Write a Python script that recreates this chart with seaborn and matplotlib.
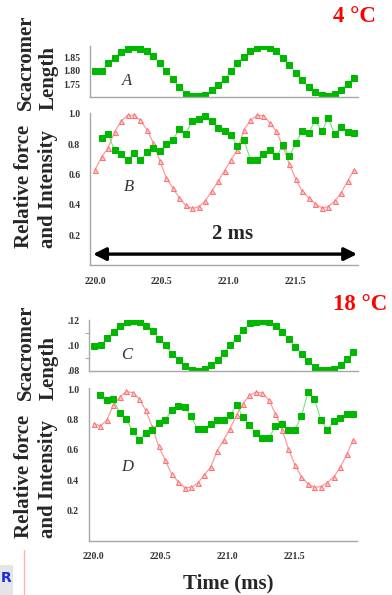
import numpy as np
import pandas as pd
import matplotlib
matplotlib.use('Agg')
import matplotlib.pyplot as plt
import seaborn as sns

#time axis (ms), same sampling for all panels
time_ms = [220.000, 220.049, 220.097, 220.146, 220.194, 220.243, 220.291, 220.340,
           220.388, 220.437, 220.485, 220.534, 220.582, 220.631, 220.679, 220.728,
           220.776, 220.825, 220.873, 220.922, 220.970, 221.019, 221.067, 221.116,
           221.164, 221.213, 221.261, 221.310, 221.358, 221.407, 221.455, 221.504,
           221.552, 221.601, 221.649, 221.698, 221.746, 221.795, 221.843, 221.892,
           221.940]

#4 C - sarcomere length (panel A)
sl_4c = [1.800, 1.800, 1.829, 1.851, 1.873, 1.885, 1.893, 1.885, 1.875, 1.856,
         1.829, 1.800, 1.770, 1.739, 1.714, 1.706, 1.703, 1.710, 1.726, 1.745,
         1.770, 1.800, 1.830, 1.854, 1.876, 1.888, 1.894, 1.888, 1.875, 1.850,
         1.823, 1.794, 1.766, 1.739, 1.719, 1.708, 1.704, 1.712, 1.729, 1.750,
         1.775]
#4 C - relative force (panel B, red)
force_4c = [0.632, 0.715, 0.775, 0.880, 0.950, 0.990, 0.990, 0.956, 0.895, 0.807,
            0.690, 0.577, 0.510, 0.446, 0.396, 0.376, 0.387, 0.424, 0.490, 0.555,
            0.625, 0.698, 0.763, 0.895, 0.956, 0.990, 0.987, 0.940, 0.884, 0.785,
            0.670, 0.570, 0.490, 0.446, 0.408, 0.380, 0.387, 0.424, 0.479, 0.555,
            0.632]
#4 C - intensity (panel B, green), starts at 2nd sample
inten_4c = [0.840, 0.866, 0.760, 0.735, 0.693, 0.742, 0.693, 0.746, 0.774, 0.752,
            0.800, 0.825, 0.900, 0.868, 0.954, 0.967, 0.987, 0.950, 0.906, 0.884,
            0.860, 0.785, 0.825, 0.698, 0.693, 0.737, 0.760, 0.720, 0.792, 0.720,
            0.807, 0.888, 0.873, 0.956, 0.884, 0.970, 0.868, 0.912, 0.880, 0.873]

#18 C - sarcomere length (panel C)
sl_18c = [0.0998, 0.1000, 0.1060, 0.1110, 0.1160, 0.1190, 0.1200, 0.1185, 0.1160, 0.1120,
          0.1055, 0.1000, 0.0930, 0.0880, 0.0830, 0.0800, 0.0796, 0.0810, 0.0837, 0.0880,
          0.0940, 0.1000, 0.1060, 0.1125, 0.1177, 0.1190, 0.1200, 0.1185, 0.1160, 0.1110,
          0.1050, 0.0990, 0.0930, 0.0870, 0.0826, 0.0800, 0.0800, 0.0810, 0.0845, 0.0890,
          0.0946]
#18 C - relative force (panel D, red)
force_18c = [0.772, 0.757, 0.794, 0.893, 0.947, 0.985, 0.976, 0.937, 0.860, 0.750,
             0.624, 0.532, 0.438, 0.390, 0.350, 0.352, 0.379, 0.433, 0.484, 0.593,
             0.663, 0.740, 0.830, 0.904, 0.958, 0.980, 0.974, 0.926, 0.838, 0.733,
             0.608, 0.499, 0.422, 0.374, 0.352, 0.357, 0.383, 0.422, 0.484, 0.571,
             0.667]
#18 C - intensity (panel D, green), starts at 2nd sample
inten_18c = [0.963, 0.930, 0.932, 0.845, 0.800, 0.724, 0.663, 0.711, 0.729, 0.777,
             0.799, 0.860, 0.886, 0.882, 0.820, 0.735, 0.735, 0.772, 0.794, 0.794,
             0.830, 0.893, 0.816, 0.766, 0.711, 0.680, 0.680, 0.755, 0.772, 0.729,
             0.733, 0.820, 0.980, 0.937, 0.794, 0.733, 0.790, 0.812, 0.838, 0.838]

sns.set_style('white')
plt.rcParams['font.family'] = ['Liberation Serif', 'DejaVu Serif']

green = '#00b800'
green_line = '#7ee07e'
red_edge = '#ff6e6e'
red_line = '#ff9a9a'
spine_col = '#a8a8a8'

fig = plt.figure(figsize=(3.92, 5.95), dpi=100)

def style_axis(ax, xlabels):
    for s in ['top', 'right']:
        ax.spines[s].set_visible(False)
    for s in ['left', 'bottom']:
        ax.spines[s].set_color(spine_col)
        ax.spines[s].set_linewidth(1.0)
    ax.set_xlim(219.962, 221.97)
    ax.set_xticks([220.0, 220.5, 221.0, 221.5])
    if xlabels:
        ax.set_xticklabels(['220.0', '220.5', '221.0', '221.5'])
    else:
        ax.set_xticklabels([])
    ax.tick_params(axis='both', which='both', direction='out', color=spine_col,
                   labelsize=7, labelcolor='#333333', pad=4)
    ax.tick_params(axis='both', which='major', length=3, width=0.8)
    ax.tick_params(axis='y', which='minor', length=3, width=0.8, left=True)
    ax.tick_params(axis='x', pad=5)
    for lab in ax.get_xticklabels() + ax.get_yticklabels():
        lab.set_fontweight('bold')
    ax.set_xlabel('')
    ax.set_ylabel('')

def length_panel(rect, values, ylim, yticks, ylabels, letter, ly, minor=None):
    ax = fig.add_axes(rect)
    df = pd.DataFrame({'t': time_ms, 'v': values})
    sns.lineplot(data=df, x='t', y='v', ax=ax, color=green_line, lw=0.8,
                 estimator=None, sort=False, marker='s', markersize=4.4,
                 markerfacecolor=green, markeredgecolor=green)
    ax.set_ylim(*ylim)
    ax.set_yticks(yticks)
    ax.set_yticklabels(ylabels)
    if minor is not None:
        ax.set_yticks(minor, minor=True)
    style_axis(ax, False)
    ax.text(220.24, ly, letter, fontsize=12, style='italic', color='#333333',
            ha='center', va='center')
    return ax

def force_panel(rect, force, inten, letter, ly, xlabels):
    ax = fig.add_axes(rect)
    df_f = pd.DataFrame({'t': time_ms, 'v': force})
    df_i = pd.DataFrame({'t': time_ms[1:], 'v': inten})
    sns.lineplot(data=df_f, x='t', y='v', ax=ax, color=red_line, lw=0.9,
                 estimator=None, sort=False, marker='^', markersize=3.6,
                 markerfacecolor='#ffc8c8', markeredgecolor=red_edge, markeredgewidth=0.7)
    sns.lineplot(data=df_i, x='t', y='v', ax=ax, color=green_line, lw=0.8,
                 estimator=None, sort=False, marker='s', markersize=4.4,
                 markerfacecolor=green, markeredgecolor=green)
    ax.set_ylim(0, 1.005)
    ax.set_yticks([0.2, 0.4, 0.6, 0.8, 1.0])
    ax.set_yticklabels(['0.2', '0.4', '0.6', '0.8', '1.0'])
    style_axis(ax, xlabels)
    ax.text(220.25, ly, letter, fontsize=12, style='italic', color='#333333',
            ha='center', va='center')
    return ax

#4 C panels
axA = length_panel([0.2296, 0.8375, 0.6837, 0.0852], sl_4c, (1.702, 1.895),
                   [1.75, 1.80, 1.85], ['1.75', '1.80', '1.85'], 'A', 1.762)
axB = force_panel([0.2296, 0.5538, 0.6837, 0.2563], force_4c, inten_4c, 'B', 0.515, True)

#2 ms double arrow + label
axB.annotate('', xy=(221.963, 0.075), xytext=(219.985, 0.075),
             arrowprops=dict(arrowstyle='<|-|>', lw=2.4, color='black',
                             mutation_scale=19, shrinkA=0, shrinkB=0))
axB.text(221.03, 0.21, '2 ms', fontsize=15, fontweight='bold', ha='center', va='center')

#18 C panels
axC = length_panel([0.2278, 0.3770, 0.6842, 0.0852], sl_18c, (0.0795, 0.1205),
                   [0.08, 0.10, 0.12], ['.08', '.10', '.12'], 'C', 0.0918,
                   minor=[0.09, 0.11])
axD = force_panel([0.2263, 0.0913, 0.6852, 0.2560], force_18c, inten_18c, 'D', 0.484, True)

#axis titles
fig.text(37 / 392, 1 - 110 / 595, 'Scacromer\nLength', rotation=90, fontsize=15,
         fontweight='bold', ha='center', va='bottom', multialignment='left')
fig.text(36 / 392, 1 - 248 / 595, 'Relative force\nand Intensity', rotation=90, fontsize=15,
         fontweight='bold', ha='center', va='bottom', multialignment='left')
fig.text(37 / 392, 1 - 400 / 595, 'Scacromer\nLength', rotation=90, fontsize=15,
         fontweight='bold', ha='center', va='bottom', multialignment='left')
fig.text(36 / 392, 1 - 538 / 595, 'Relative force\nand Intensity', rotation=90, fontsize=15,
         fontweight='bold', ha='center', va='bottom', multialignment='left')
fig.text(228 / 392, 1 - 583 / 595, 'Time (ms)', fontsize=15, fontweight='bold',
         ha='center', va='center')

#temperatures
fig.text(333 / 392, 1 - 17 / 595, '4 \u00b0C', fontsize=16.5, fontweight='bold',
         color='red', ha='left', va='center')
fig.text(333 / 392, 1 - 305 / 595, '18 \u00b0C', fontsize=16.5, fontweight='bold',
         color='red', ha='left', va='center')

#slide leftovers: pink rule and logo corner
fig.add_artist(plt.Line2D([24 / 392, 24 / 392], [0, 1 - 550 / 595], color='#ffb0b0', lw=1))
fig.add_artist(plt.Rectangle((0, 0), 13 / 392, 30 / 595, color='#e4e4ea', lw=0))
fig.text(1 / 392, 1 - 578 / 595, 'R', fontsize=10, fontweight='bold', color='#1a2fd0',
         family='DejaVu Sans', ha='left', va='center')

fig.savefig('out.png', dpi=100)
